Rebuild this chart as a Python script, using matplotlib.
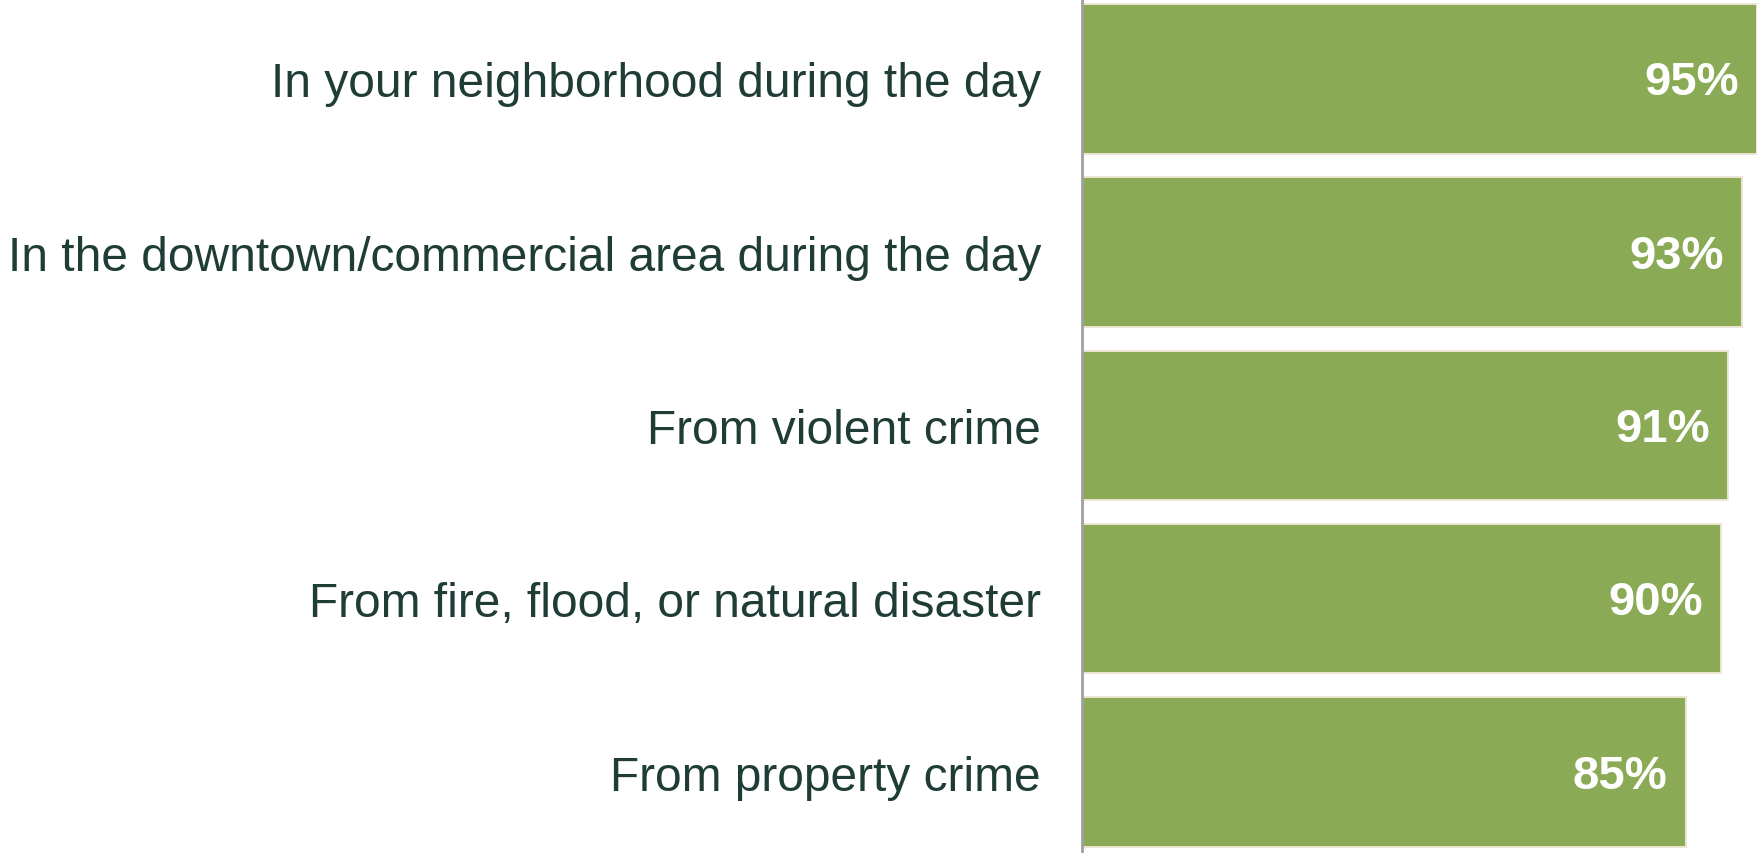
import matplotlib
matplotlib.use("Agg")
import matplotlib.pyplot as plt

categories = [
    "In your neighborhood during the day",
    "In the downtown/commercial area during the day",
    "From violent crime",
    "From fire, flood, or natural disaster",
    "From property crime",
]
values = [95, 93, 91, 90, 85]
value_labels = ["95%", "93%", "91%", "90%", "85%"]

W, H, DPI = 1758, 854, 100
fig = plt.figure(figsize=(W / DPI, H / DPI), dpi=DPI)
ax_left = 1082 / W
ax = fig.add_axes([ax_left, 0, 1 - ax_left, 1])

ypos = list(range(len(categories)))
ax.barh(ypos, values, height=0.862, color="#8BAA55", edgecolor="#EDE5D5", linewidth=1.4)

ax.set_xlim(0, 95.2)
ax.set_ylim(4.467, -0.461)

for spine in ["top", "right", "bottom"]:
    ax.spines[spine].set_visible(False)
ax.spines["left"].set_color("#A0A0A0")
ax.spines["left"].set_linewidth(2)
ax.set_xticks([])
ax.set_yticks(ypos)
ax.set_yticklabels(categories, fontsize=34.5, color="#1F3D36", family="Liberation Sans")
ax.tick_params(axis="y", length=0, pad=29.5)

for y, v, lab in zip(ypos, values, value_labels):
    ax.annotate(lab, xy=(v, y), xytext=(-13, -2.5), textcoords="offset points",
                ha="right", va="center", fontsize=34, fontweight="bold",
                color="white", family="Liberation Sans")

fig.savefig("out.png", dpi=DPI)
